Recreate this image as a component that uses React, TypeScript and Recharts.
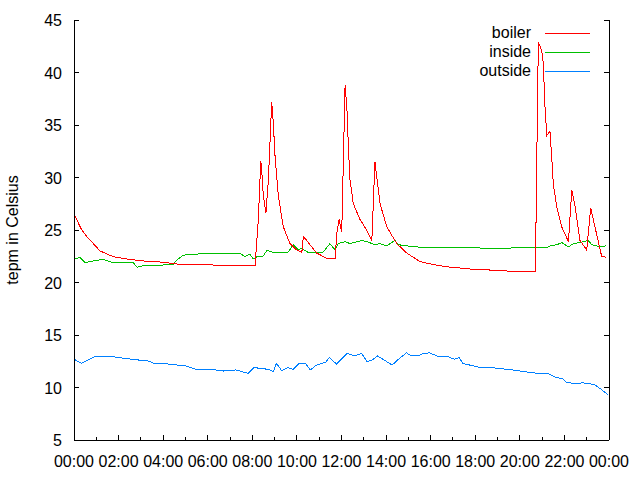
import React from 'react';
import { LineChart, Line, XAxis, YAxis } from 'recharts';

// ---- data (hours since 00:00, temperature in Celsius) ----
const boilerT = [0, 0.35, 0.6, 0.87, 1.17, 1.76, 2.37, 3.1, 3.87, 4.63, 6.11, 7.78, 8.0, 8.12, 8.27, 8.38, 8.42, 8.49, 8.61, 8.72, 8.87, 8.94, 9.02, 9.17, 9.39, 9.69, 9.99, 10.14, 10.22, 10.29, 10.66, 10.89, 11.34, 11.71, 11.79, 11.89, 12.01, 12.16, 12.24, 12.31, 12.38, 12.53, 12.83, 13.13, 13.36, 13.5, 13.58, 13.73, 14.03, 14.48, 14.93, 15.52, 16.12, 16.72, 17.91, 19.26, 19.78, 20.7, 20.75, 20.83, 20.98, 21.05, 21.13, 21.21, 21.35, 21.43, 21.5, 21.66, 21.88, 22.18, 22.33, 22.48, 22.7, 23.0, 23.18, 23.37, 23.67, 23.87];
const boilerV = [26.5, 25.0, 24.3, 23.7, 23.0, 22.46, 22.24, 22.05, 21.95, 21.76, 21.67, 21.6, 21.57, 21.6, 26.0, 31.6, 30.7, 28.3, 26.6, 29.8, 37.2, 35.2, 32.0, 28.2, 25.3, 23.7, 23.1, 22.95, 22.85, 24.4, 23.4, 22.8, 22.3, 22.24, 24.7, 26.0, 24.8, 38.8, 36.7, 32.9, 29.8, 27.5, 26.0, 25.0, 24.0, 31.5, 30.1, 27.5, 25.3, 23.7, 22.8, 22.0, 21.7, 21.5, 21.26, 21.13, 21.03, 21.03, 30.0, 42.9, 42.1, 40.9, 36.7, 34.0, 34.4, 32.0, 29.4, 27.2, 25.3, 23.9, 28.8, 27.2, 24.0, 23.1, 27.1, 25.3, 22.5, 22.4];

const insideT = [0, 0.27, 0.49, 0.85, 1.3, 1.75, 2.65, 2.83, 3.1, 4.44, 4.62, 4.89, 6.1, 7.45, 7.67, 7.9, 8.03, 8.21, 8.48, 8.66, 8.88, 9.24, 9.61, 9.84, 10.06, 10.22, 10.51, 11.18, 11.48, 11.71, 11.86, 12.16, 12.38, 12.91, 13.13, 13.5, 13.73, 14.03, 14.4, 14.55, 15.22, 16.42, 17.5, 18.6, 20.01, 20.68, 21.21, 21.36, 21.66, 21.88, 22.18, 22.4, 22.7, 23.07, 23.23, 23.6, 23.87];
const insideV = [22.2, 22.4, 21.9, 22.05, 22.2, 21.9, 21.9, 21.45, 21.6, 21.7, 22.14, 22.6, 22.8, 22.78, 22.46, 22.7, 22.24, 22.46, 22.5, 23.06, 22.9, 22.9, 22.9, 23.6, 23.1, 23.25, 22.85, 22.9, 23.7, 23.1, 23.7, 23.9, 23.7, 24.0, 23.9, 23.6, 23.7, 23.5, 24.0, 23.6, 23.4, 23.3, 23.35, 23.25, 23.3, 23.35, 23.3, 23.5, 23.6, 23.8, 23.4, 23.7, 23.8, 24.0, 23.6, 23.4, 23.5];

const outsideT = [0, 0.34, 0.98, 1.7, 2.59, 3.4, 3.63, 4.2, 5.01, 5.49, 6.14, 6.7, 7.26, 7.82, 8.07, 8.71, 8.95, 9.08, 9.32, 9.6, 9.84, 10.08, 10.4, 10.6, 10.88, 11.29, 11.45, 11.77, 12.25, 12.58, 12.9, 13.14, 13.32, 13.62, 13.86, 14.27, 14.51, 14.91, 15.07, 15.47, 15.64, 15.96, 16.28, 16.76, 17.08, 17.28, 17.44, 18.21, 18.86, 19.66, 20.3, 20.79, 21.27, 21.59, 21.92, 22.08, 22.56, 22.8, 23.36, 23.69, 23.96];
const outsideV = [12.7, 12.3, 13.0, 12.94, 12.69, 12.5, 12.24, 12.24, 12.05, 11.73, 11.73, 11.57, 11.67, 11.35, 11.9, 11.73, 11.5, 12.3, 11.6, 11.9, 11.73, 12.24, 12.24, 11.67, 12.14, 12.4, 12.87, 12.24, 13.25, 13.0, 13.25, 12.5, 12.55, 13.0, 12.69, 12.14, 12.6, 13.3, 13.1, 13.0, 13.25, 13.3, 13.0, 12.94, 12.69, 12.87, 12.3, 11.9, 11.86, 11.67, 11.48, 11.35, 11.35, 10.97, 10.84, 10.5, 10.33, 10.46, 10.27, 9.76, 9.3];

const seriesNames = ['boiler', 'inside', 'outside'];
const seriesColors = ['#ff0000', '#00c000', '#0080ff'];

const hourTicks = [0, 1, 2, 3, 4, 5, 6, 7, 8, 9, 10, 11, 12, 13, 14, 15, 16, 17, 18, 19, 20, 21, 22, 23, 24];
const xTickLabels = ['00:00', '02:00', '04:00', '06:00', '08:00', '10:00', '12:00', '14:00', '16:00', '18:00', '20:00', '22:00', '00:00'];
const yTicks = [5, 10, 15, 20, 25, 30, 35, 40, 45];
const yLabel = 'tepm in Celsius';

const toRows = (ts: number[], vs: number[]) => ts.map((t, i) => ({ t, v: vs[i] }));
const boilerData = toRows(boilerT, boilerV);
const insideData = toRows(insideT, insideV);
const outsideData = toRows(outsideT, outsideV);

const FONT = '"Liberation Sans", Arial, sans-serif';
const FS = 16;
const MAJOR = 5;
const MINOR = 3;

const BottomTick = (p: any) => {
  const h = p.payload.value;
  const major = h % 2 === 0;
  return (
    <g>
      <line x1={p.x} y1={p.y} x2={p.x} y2={p.y - (major ? MAJOR : MINOR)} stroke="#000" shapeRendering="crispEdges" />
      {major && (
        <text x={p.x} y={p.y + 27} textAnchor="middle" fontFamily={FONT} fontSize={FS} fill="#000">
          {xTickLabels[h / 2]}
        </text>
      )}
    </g>
  );
};

const TopTick = (p: any) => {
  const h = p.payload.value;
  const major = h % 2 === 0;
  return <line x1={p.x} y1={p.y} x2={p.x} y2={p.y + (major ? MAJOR : MINOR)} stroke="#000" shapeRendering="crispEdges" />;
};

const LeftTick = (p: any) => (
  <g>
    <line x1={p.x} y1={p.y} x2={p.x + MAJOR} y2={p.y} stroke="#000" shapeRendering="crispEdges" />
    <text x={p.x - 12} y={p.y + 6} textAnchor="end" fontFamily={FONT} fontSize={FS} fill="#000">
      {p.payload.value}
    </text>
  </g>
);

const RightTick = (p: any) => (
  <line x1={p.x} y1={p.y} x2={p.x - MAJOR} y2={p.y} stroke="#000" shapeRendering="crispEdges" />
);

const axisLine = { stroke: '#000', shapeRendering: 'crispEdges' } as any;

export default function App() {
  return (
    <div style={{ position: 'absolute', left: 0, top: 0, width: 640, height: 480, background: '#fff' }}>
      <LineChart width={640} height={480} margin={{ top: 20, right: 0, bottom: 0, left: 0 }}>
        <XAxis xAxisId="b" dataKey="t" type="number" domain={[0, 24]} ticks={hourTicks} interval={0}
          height={40} tickSize={0} tickMargin={0} tick={<BottomTick />} axisLine={axisLine} allowDataOverflow />
        <XAxis xAxisId="top" orientation="top" dataKey="t" type="number" domain={[0, 24]} ticks={hourTicks} interval={0}
          height={0} tickSize={0} tickMargin={0} tick={<TopTick />} axisLine={axisLine} allowDataOverflow />
        <YAxis yAxisId="l" type="number" domain={[5, 45]} ticks={yTicks} interval={0} width={74}
          tickSize={0} tickMargin={0} tick={<LeftTick />} axisLine={axisLine} allowDataOverflow />
        <YAxis yAxisId="r" orientation="right" type="number" domain={[5, 45]} ticks={yTicks} interval={0} width={31}
          tickSize={0} tickMargin={0} tick={<RightTick />} axisLine={axisLine} allowDataOverflow />
        <Line xAxisId="b" yAxisId="l" data={outsideData} dataKey="v" name={seriesNames[2]} stroke={seriesColors[2]}
          strokeWidth={1} dot={false} activeDot={false} isAnimationActive={false} type="linear" shapeRendering="crispEdges" />
        <Line xAxisId="b" yAxisId="l" data={insideData} dataKey="v" name={seriesNames[1]} stroke={seriesColors[1]}
          strokeWidth={1} dot={false} activeDot={false} isAnimationActive={false} type="linear" shapeRendering="crispEdges" />
        <Line xAxisId="b" yAxisId="l" data={boilerData} dataKey="v" name={seriesNames[0]} stroke={seriesColors[0]}
          strokeWidth={1} dot={false} activeDot={false} isAnimationActive={false} type="linear" shapeRendering="crispEdges" />
      </LineChart>
      <svg width={640} height={480} style={{ position: 'absolute', left: 0, top: 0, pointerEvents: 'none' }}>
        <text transform="translate(18,230) rotate(-90)" textAnchor="middle" fontFamily={FONT} fontSize={FS} fill="#000">
          {yLabel}
        </text>
        {seriesNames.map((n, i) => (
          <g key={n}>
            <text x={531} y={38 + i * 19} textAnchor="end" fontFamily={FONT} fontSize={FS} fill="#000">{n}</text>
            <line x1={545} x2={590} y1={33.5 + i * 19} y2={33.5 + i * 19} stroke={seriesColors[i]} strokeWidth={1} shapeRendering="crispEdges" />
          </g>
        ))}
      </svg>
    </div>
  );
}
